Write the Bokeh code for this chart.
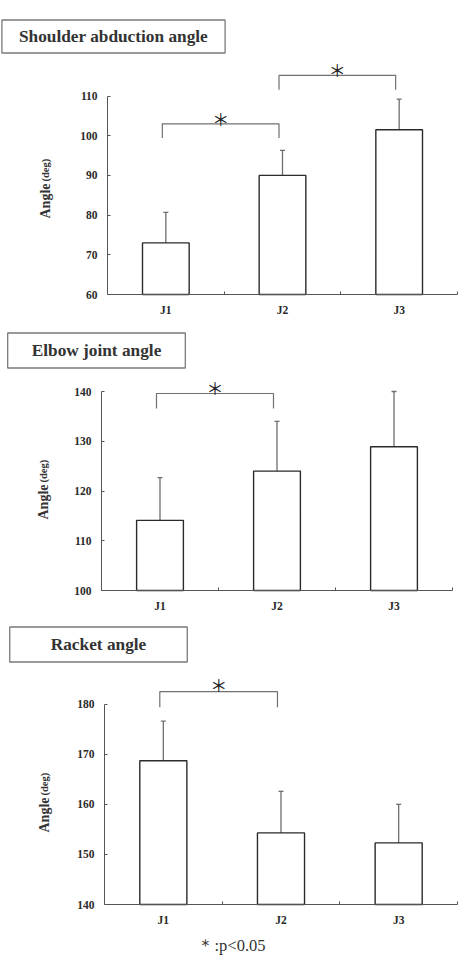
from bokeh.plotting import figure
from bokeh.models import Range1d, FixedTicker, Label, ColumnDataSource
from bokeh.layouts import column
from bokeh.embed import file_html
from bokeh.resources import INLINE
from bokeh.core.properties import value

# ---------------- data ----------------
categories = ["J1", "J2", "J3"]

titles = ["Shoulder abduction angle", "Elbow joint angle", "Racket angle"]

shoulder_mean = [73.0, 90.0, 101.5]
shoulder_sd = [7.7, 6.3, 7.7]
shoulder_ticks = [60, 70, 80, 90, 100, 110]
# significance brackets: (from index, to index, bracket top, leg bottom, star y)
shoulder_sig = [(0, 1, 103.0, 99.4, 104.4), (1, 2, 115.2, 111.6, 116.6)]

elbow_mean = [114.1, 124.0, 128.9]
elbow_sd = [8.6, 10.0, 11.1]
elbow_ticks = [100, 110, 120, 130, 140]
elbow_sig = [(0, 1, 139.6, 136.6, 140.9)]

racket_mean = [168.7, 154.3, 152.3]
racket_sd = [7.9, 8.3, 7.7]
racket_ticks = [140, 150, 160, 170, 180]
racket_sig = [(0, 1, 182.5, 179.4, 183.9)]

footnote = "＊:p<0.05"

SERIF = "Liberation Serif"
AX_COL = "#555555"
TXT_COL = "#2a2a2a"
W = 465


def panel(title, means, sds, ticks, sigs, height, left, right, base_y, ppu,
          tbox, ylab, foot=None):
    # frame covers the whole figure; axes are pinned with fixed_location
    ncat = len(categories)
    ppx = (W - left - right) / ncat
    ymin = ticks[0]
    x0 = -left / ppx
    x1 = ncat + right / ppx
    y0 = ymin - (height - base_y) / ppu
    y1 = ymin + base_y / ppu
    p = figure(width=W, height=height, output_backend="svg", toolbar_location=None,
               x_range=Range1d(x0, x1), y_range=Range1d(y0, y1),
               min_border=0)
    p.grid.visible = False
    p.outline_line_color = None
    p.background_fill_color = "white"
    p.border_fill_color = "white"

    xs = [i + 0.5 for i in range(ncat)]
    src = ColumnDataSource(dict(x=xs, top=means, bottom=[ymin] * ncat,
                                err=[m + s for m, s in zip(means, sds)]))

    # error bars (behind bars)
    p.segment(x0="x", y0="top", x1="x", y1="err", source=src,
              line_color="#6e6e6e", line_width=1.3)
    p.scatter(x="x", y="err", source=src, marker="dash", size=5,
              line_color="#6e6e6e", line_width=1.3)
    p.vbar(x="x", width=0.4, top="top", bottom="bottom", source=src,
           fill_color="white", line_color="#2b2b2b", line_width=1.4)

    # significance brackets
    for (i, j, ytop, yleg, ystar) in sigs:
        xa = xs[i] - 0.03
        xb = xs[j] - 0.03
        p.line(x=[xa, xa, xb, xb], y=[yleg, ytop, ytop, yleg],
               line_color="#707070", line_width=1.2)
        p.text(x=[(xa + xb) / 2], y=[ystar], text=["＊"],
               text_font=value("Noto Sans CJK JP"), text_font_size="17px",
               text_align="center", text_baseline="middle", text_color="#222222")

    # axes
    xa_ = p.xaxis[0]
    xa_.fixed_location = ymin
    xa_.ticker = FixedTicker(ticks=xs, minor_ticks=[1, 2, 3])
    xa_.major_label_overrides = {x: c for x, c in zip(xs, categories)}
    xa_.major_tick_in = 0
    xa_.major_tick_out = 0
    xa_.minor_tick_in = 3
    xa_.minor_tick_out = 0
    xa_.axis_line_color = AX_COL
    xa_.minor_tick_line_color = AX_COL
    xa_.bounds = (0, ncat)
    xa_.major_label_text_font = SERIF
    xa_.major_label_text_font_style = "bold"
    xa_.major_label_text_font_size = "11.5px"
    xa_.major_label_text_color = TXT_COL
    xa_.major_label_standoff = 9

    ya = p.yaxis[0]
    ya.fixed_location = 0
    ya.ticker = FixedTicker(ticks=ticks, minor_ticks=[])
    ya.bounds = (ticks[0], ticks[-1])
    ya.major_tick_in = 3
    ya.major_tick_out = 0
    ya.axis_line_color = AX_COL
    ya.major_tick_line_color = AX_COL
    ya.major_label_text_font = SERIF
    ya.major_label_text_font_style = "bold"
    ya.major_label_text_font_size = "11.5px"
    ya.major_label_text_color = TXT_COL
    ya.major_label_standoff = 10

    # title box (screen units; frame == canvas here, y measured from bottom)
    cx, cy, padh, padv = tbox
    p.add_layout(Label(x=cx, y=height - cy, x_units="screen", y_units="screen",
                       text=title, text_font=SERIF, text_font_style="bold",
                       text_font_size="17.3px", text_color="#333333",
                       text_align="center", text_baseline="middle",
                       border_line_color="#7a7a7a", border_line_width=1.3,
                       background_fill_color="white", padding=(padh, padv)))

    # y axis label
    lx, ly = ylab
    p.add_layout(Label(x=lx, y=height - ly, x_units="screen", y_units="screen",
                       text="Angle", angle=1.5708, text_font=SERIF, text_font_style="bold",
                       text_font_size="14px", text_color="#333333",
                       text_align="left", text_baseline="middle"))
    p.add_layout(Label(x=lx, y=height - ly + 37, x_units="screen", y_units="screen",
                       text="(deg)", angle=1.5708, text_font=SERIF, text_font_style="bold",
                       text_font_size="10.5px", text_color="#333333",
                       text_align="left", text_baseline="middle"))

    if foot is not None:
        fx, fy = foot
        p.add_layout(Label(x=fx, y=height - fy, x_units="screen", y_units="screen",
                           text=footnote, text_font=SERIF, text_font_size="16.5px",
                           text_color="#333333", text_align="center",
                           text_baseline="middle"))
    return p


p1 = panel(titles[0], shoulder_mean, shoulder_sd, shoulder_ticks, shoulder_sig,
           height=320, left=107, right=8, base_y=294, ppu=3.97,
           tbox=(113, 36, 17, 7), ylab=(45, 218))
p2 = panel(titles[1], elbow_mean, elbow_sd, elbow_ticks, elbow_sig,
           height=300, left=101, right=13, base_y=270, ppu=4.975,
           tbox=(96, 30, 24, 8), ylab=(43, 199))
p3 = panel(titles[2], racket_mean, racket_sd, racket_ticks, racket_sig,
           height=336, left=104, right=8, base_y=284, ppu=5.008,
           tbox=(98, 24, 41, 8), ylab=(44, 212), foot=(231, 325))

layout = column(p1, p2, p3, spacing=0)
open("out.html", "w").write(file_html(layout, INLINE))
